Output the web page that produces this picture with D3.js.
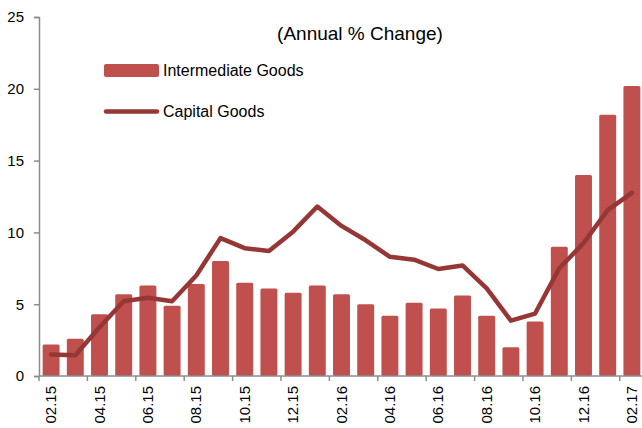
<!DOCTYPE html>
<meta charset="utf-8">
<style>
  body { margin: 0; background: #fff; }
  text { font-family: "Liberation Sans", Arial, sans-serif; fill: #000; }
</style>
<svg width="642" height="428"></svg>
<script src="https://cdn.jsdelivr.net/npm/d3@7"></script>
<script>

// months, Feb 2015 .. Feb 2017
var months = ["02.15","03.15","04.15","05.15","06.15","07.15","08.15","09.15","10.15","11.15","12.15","01.16",
              "02.16","03.16","04.16","05.16","06.16","07.16","08.16","09.16","10.16","11.16","12.16","01.17","02.17"]

// intermediate goods (bars)
var intermediate = [2.2, 2.6, 4.3, 5.7, 6.3, 4.9, 6.4, 8.0, 6.5, 6.1, 5.8, 6.3,
                    5.7, 5.0, 4.2, 5.1, 4.7, 5.6, 4.2, 2.0, 3.8, 9.0, 14.0, 18.2, 20.2]

// capital goods (line)
var capital = [1.5, 1.45, 3.4, 5.2, 5.45, 5.2, 7.0, 9.6, 8.9, 8.7, 10.05, 11.8,
               10.45, 9.45, 8.3, 8.1, 7.45, 7.7, 6.1, 3.85, 4.35, 7.5, 9.25, 11.55, 12.75]

var yTicks = [0, 5, 10, 15, 20, 25]

var barColor = "#c0504d"
var lineColor = "#953735"
var axisColor = "#8c8c8c"

var svg = d3.select("svg")

var x = d3.scaleBand().domain(months).range([39, 644]).paddingInner(0.3).paddingOuter(0.15)
var y = d3.scaleLinear().domain([0, 25]).range([376, 17])

// bars
svg.append("g").selectAll("rect")
  .data(intermediate)
  .enter().append("rect")
  .attr("x", function(d, i) { return x(months[i]) })
  .attr("y", function(d) { return y(d) })
  .attr("width", x.bandwidth())
  .attr("height", function(d) { return y(0) - y(d) })
  .attr("rx", 1.5)
  .attr("fill", barColor)

// line
var line = d3.line()
  .x(function(d, i) { return x(months[i]) + x.bandwidth() / 2 })
  .y(function(d) { return y(d) })

svg.append("path")
  .datum(capital)
  .attr("d", line)
  .attr("fill", "none")
  .attr("stroke", lineColor)
  .attr("stroke-width", 4.5)
  .attr("stroke-linejoin", "round")
  .attr("stroke-linecap", "round")

// y axis
var yAxis = svg.append("g")
  .attr("transform", "translate(39,0)")
  .call(d3.axisLeft(y).tickValues(yTicks).tickSize(5).tickPadding(10))
yAxis.select(".domain").attr("stroke", axisColor).attr("stroke-width", 1.5)
yAxis.selectAll(".tick line").attr("stroke", axisColor).attr("stroke-width", 1.5)
yAxis.selectAll(".tick text").style("font-size", "15px").attr("fill", "#000")

// x axis: ticks every second month, on the category boundary
var labelled = months.filter(function(d, i) { return i % 2 === 0 })
var half = x.step() * x.paddingInner() / 2

var xg = svg.append("g")
xg.append("line")
  .attr("x1", 39).attr("x2", 642)
  .attr("y1", y(0)).attr("y2", y(0))
  .attr("stroke", axisColor).attr("stroke-width", 1.5)

xg.selectAll(".xtick")
  .data(labelled)
  .enter().append("line")
  .attr("x1", function(d) { return x(d) - half })
  .attr("x2", function(d) { return x(d) - half })
  .attr("y1", y(0)).attr("y2", y(0) + 5)
  .attr("stroke", axisColor).attr("stroke-width", 1.5)

xg.selectAll(".xlabel")
  .data(labelled)
  .enter().append("text")
  .attr("transform", function(d) {
    return "translate(" + (x(d) + x.bandwidth() / 2 + 5) + "," + (y(0) + 10) + ") rotate(-90)"
  })
  .attr("text-anchor", "end")
  .style("font-size", "15px")
  .text(function(d) { return d })

// title
svg.append("text")
  .attr("x", 360).attr("y", 40)
  .attr("text-anchor", "middle")
  .style("font-size", "19px")
  .text("(Annual % Change)")

// legend
var legend = svg.append("g")
legend.append("rect")
  .attr("x", 104).attr("y", 64).attr("width", 55).attr("height", 13).attr("rx", 2)
  .attr("fill", barColor)
legend.append("text")
  .attr("x", 163).attr("y", 76)
  .style("font-size", "16px")
  .text("Intermediate Goods")
legend.append("line")
  .attr("x1", 106).attr("x2", 157).attr("y1", 111.5).attr("y2", 111.5)
  .attr("stroke", lineColor).attr("stroke-width", 4.5).attr("stroke-linecap", "round")
legend.append("text")
  .attr("x", 163).attr("y", 117)
  .style("font-size", "16px")
  .text("Capital Goods")

</script>
